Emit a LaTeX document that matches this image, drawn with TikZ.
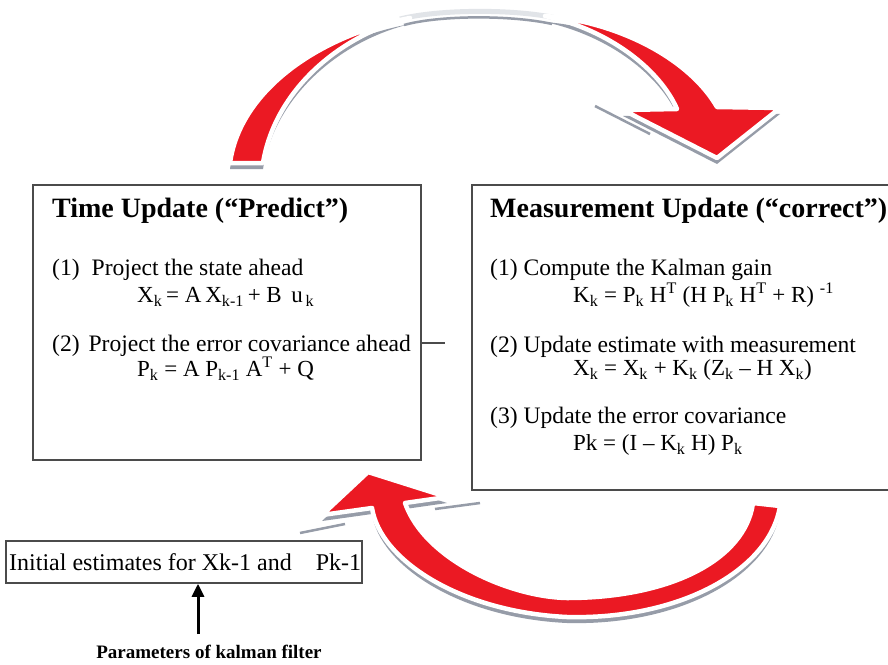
\documentclass[tikz,border=0pt]{standalone}
\usepackage{fontspec}
\setmainfont{Liberation Serif}
\usetikzlibrary{arrows.meta}
\definecolor{ribred}{RGB}{235,25,35}
\definecolor{ribshadow}{RGB}{150,156,168}
\definecolor{ribedge}{RGB}{225,228,232}
\definecolor{boxline}{RGB}{75,75,75}
\begin{document}
\begin{tikzpicture}[x=1pt,y=-1pt,
  boxframe/.style={draw=boxline, line width=2pt, inner sep=0pt},
  smallframe/.style={draw=boxline, line width=1.5pt, inner sep=0pt},
  titletext/.style={anchor=west, inner sep=0pt, font=\fontsize{28}{30}\selectfont\bfseries},
  bodytext/.style={anchor=west, inner sep=0pt, font=\fontsize{23.6}{25}\selectfont},
  eqtext/.style={anchor=west, inner sep=0pt, font=\fontsize{23}{24}\selectfont},
  paramtext/.style={inner sep=0pt, font=\fontsize{19}{21}\selectfont\bfseries},
  shadowfill/.style={fill=ribshadow, shift={(0,6)}},
  ribbon/.style={fill=ribred, draw=white, line width=4.5pt, line join=round},
  stub/.style={draw=boxline, line width=1.5pt},
  uparrow/.style={draw=black, line width=3pt, -{Triangle[length=13pt,width=12pt]}}
]
\useasboundingbox (0,0) rectangle (888,664);
\fill[white] (0,0) rectangle (888,664);

\def\TopLeft{(230,163) .. controls (240,90) and (320,35) .. (410,18) .. controls (340,35) and (275,90) .. (263,163) -- cycle}
\def\TopRight{(545,16) .. controls (620,22) and (690,60) .. (717,107) -- (780,108) -- (717,158) -- (623,110) -- (677,109) .. controls (660,70) and (610,30) .. cycle}
\def\Bottom{(368,472) -- (447,497) -- (405,503) .. controls (425,560) and (510,597) .. (567,598) .. controls (670,598) and (745,560) .. (753,503) -- (780,506) .. controls (770,570) and (680,620) .. (567,617) .. controls (460,612) and (380,560) .. (372,508) -- (322,515) -- cycle}

% shadows
\fill[shadowfill] \TopLeft;
\fill[shadowfill] \TopRight;
\fill[shadowfill] \Bottom;
\draw[ribedge, line width=5pt] (400,19) .. controls (440,9) and (515,9) .. (556,18);
\draw[ribshadow, line width=2.5pt] (404,25) .. controls (440,15) and (512,15) .. (552,24);
\draw[ribshadow, line width=2.5pt] (595,106) -- (650,134);
\draw[ribshadow, line width=2.5pt] (300,533) -- (345,524);
\draw[ribshadow, line width=2.5pt] (435,509) -- (480,503);

% red ribbons
\path[ribbon] \TopLeft;
\path[ribbon] \TopRight;
\path[ribbon] \Bottom;

% boxes
\node[boxframe, minimum width=388pt, minimum height=275pt] (tu) at (227,322.5) {};
\node[boxframe, minimum width=421pt, minimum height=305pt] (mu) at (682.5,337.5) {};
\node[smallframe, minimum width=356pt, minimum height=42pt] (init) at (184,562) {};

% left box text
\node[titletext] (tutitle) at (52,211) {Time Update (“Predict”)};
\node[bodytext] (tu1) at (52,270) {(1)\hspace{12pt}Project the state ahead};
\node[eqtext] (tueq1) at (137,297) {X\textsubscript{k}\,= A\,X\textsubscript{k-1}\,+ B\, u\textsubscript{\,k}};
\node[bodytext] (tu2) at (52,346) {(2)\hspace{3pt} Project the error covariance ahead};
\node[eqtext] (tueq2) at (137,369) {P\textsubscript{k} = A P\textsubscript{k-1} A\textsuperscript{T} + Q};

% right box text
\node[titletext] (mutitle) at (490,211) {Measurement Update (“correct”)};
\node[bodytext] (mu1) at (490,270) {(1) Compute the Kalman gain};
\node[eqtext] (mueq1) at (573,295) {K\textsubscript{k} = P\textsubscript{k} H\textsuperscript{T} (H P\textsubscript{k} H\textsuperscript{T} + R) \textsuperscript{-1}};
\node[bodytext] (mu2) at (490,347) {(2) Update estimate with measurement};
\node[eqtext] (mueq2) at (573,370) {X\textsubscript{k} = X\textsubscript{k} + K\textsubscript{k} (Z\textsubscript{k} – H X\textsubscript{k})};
\node[bodytext] (mu3) at (490,418) {(3) Update the error covariance};
\node[eqtext] (mueq3) at (573,445) {Pk = (I – K\textsubscript{k} H) P\textsubscript{k}};

% stub line
\coordinate (stubend) at (445,343);
\draw[stub] (stubend -| tu.east) -- (stubend);

% initial estimates
\node[bodytext, font=\fontsize{24}{25}\selectfont] (inittext) at (9,562) {Initial estimates for Xk-1 and\ \ \ \ Pk-1};
\node[paramtext] (param) at (209,652) {Parameters of kalman filter};
\coordinate (arrbase) at (198,634);
\draw[uparrow] (arrbase) -- (arrbase |- init.south);
\end{tikzpicture}
\end{document}
